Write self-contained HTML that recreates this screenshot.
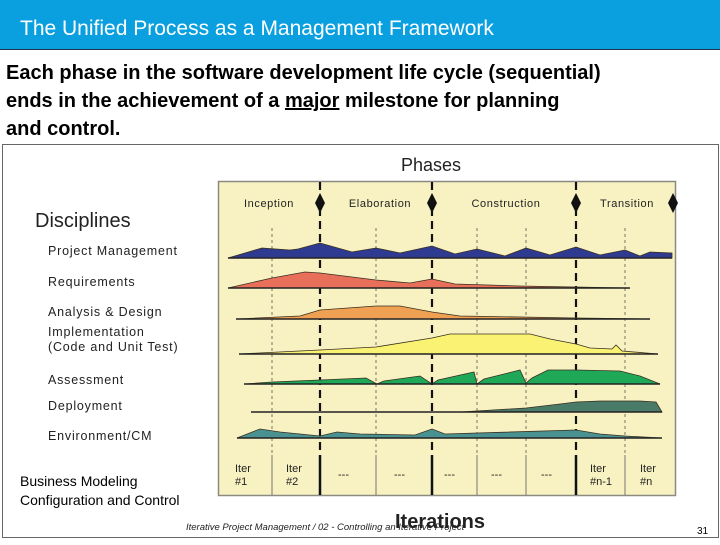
<!DOCTYPE html>
<html><head><meta charset="utf-8"><style>
html,body{margin:0;padding:0;background:#fff;}
body{width:720px;height:540px;overflow:hidden;font-family:"Liberation Sans",sans-serif;}
</style></head><body>
<svg id="s" width="720" height="540" viewBox="0 0 720 540" xmlns="http://www.w3.org/2000/svg">
<rect x="0" y="0" width="720" height="49" fill="#0aa0e0"/>
<line x1="0" y1="49.5" x2="720" y2="49.5" stroke="#1a3350" stroke-width="1"/>
<text x="20" y="35" font-size="21" fill="#fff">The Unified Process as a Management Framework</text>
<g font-size="20" font-weight="bold" fill="#000">
<text x="6" y="79">Each phase in the software development life cycle (sequential)</text>
<text x="6" y="107">ends in the achievement of a <tspan text-decoration="underline">major</tspan> milestone for planning</text>
<text x="6" y="135">and control.</text>
</g>
<rect x="2.5" y="144.5" width="716" height="393" fill="#fff" stroke="#666" stroke-width="1"/>
<text x="431" y="171" font-size="18" text-anchor="middle" fill="#222">Phases</text>
<rect x="218.5" y="181.5" width="457" height="314" fill="#f8f2c2" stroke="#8a8a80" stroke-width="1.5"/>
<g id="grid"></g>
<g id="humps"></g>
<g id="labels" font-size="11" fill="#222"></g>
<g font-size="12.5" fill="#222" letter-spacing="0.8">
<text x="35" y="227" font-size="20" letter-spacing="0">Disciplines</text>
<text x="48" y="255">Project Management</text>
<text x="48" y="286">Requirements</text>
<text x="48" y="316">Analysis &amp; Design</text>
<text x="48" y="336">Implementation</text>
<text x="48" y="351">(Code and Unit Test)</text>
<text x="48" y="384">Assessment</text>
<text x="48" y="410">Deployment</text>
<text x="48" y="440">Environment/CM</text>
</g>
<text x="20" y="486" font-size="14" fill="#000">Business Modeling</text>
<text x="20" y="505" font-size="14" fill="#000">Configuration and Control</text>
<text x="186" y="530" font-size="9.5" font-style="italic" fill="#222">Iterative Project Management / 02 - Controlling an Iterative Project</text>
<text x="440" y="528" font-size="20" font-weight="bold" text-anchor="middle" fill="#222">Iterations</text>
<text x="697" y="534" font-size="10" fill="#000">31</text>
</svg>
<script>
// x domain: 0..457 -> 218..675
const phaseBounds=[102,214,358];
const iterBounds=[54,158,259,308,407];
const phaseNames=["Inception","Elaboration","Construction","Transition"];
const phaseCenters=[51,162,288,409];
const iterLabels1=["Iter","Iter","---","---","---","---","---","Iter","Iter"];
const iterLabels2=["#1","#2","","","","","","#n-1","#n"];
const iterCenters=[27,78,130,186,236,283,333,382,432];
const pmX=[10,44,72,80,102,134,158,182,214,237,259,287,308,332,358,382,407,422,432,454];
const pmH=[0,10,8,9,15,6,10,5,12,4,9,2,10,3,11,3,8,2,6,5];
const reqX=[10,54,87,102,158,192,214,237,302,412];
const reqH=[0,10,16,15,8,5,9,4,2,0];
const adX=[18,82,102,158,182,214,242,358,432];
const adH=[0,3,9,13,13,7,3,1,0];
const impX=[21,102,158,214,232,312,332,358,372,394,398,404,440];
const impH=[0,4,7,16,20,20,15,10,6,5,9,3,0];
const asX=[26,54,102,148,159,166,202,214,220,256,259,266,302,308,314,330,358,402,422,442];
const asH=[0,2,4,6,0,3,8,0,4,12,0,5,14,1,6,14,14,13,8,0];
const depX=[33,242,308,342,358,382,422,438,444];
const depH=[0,0,4,8,10,11,11,10,0];
const envX=[19,42,62,82,102,119,142,197,214,227,358,382,407,444];
const envH=[0,9,6,4,2,6,4,3,9,4,8,4,2,0];

const NS="http://www.w3.org/2000/svg";
const sx=v=>218+v;
function mk(t,a,p){const e=document.createElementNS(NS,t);for(const k in a)e.setAttribute(k,a[k]);p.appendChild(e);return e;}
const grid=document.getElementById('grid');
iterBounds.forEach(b=>{
 const l=mk('line',{x1:sx(b),x2:sx(b),y1:228,y2:455,stroke:'#555','stroke-width':0.8,'stroke-dasharray':'3,3'},grid);
 
 
 const m=mk('line',{x1:sx(b),x2:sx(b),y1:455,y2:495,stroke:'#777','stroke-width':1},grid);
 
 
});
phaseBounds.forEach(b=>{
 const l=mk('line',{x1:sx(b),x2:sx(b),y1:182,y2:455,stroke:'#111','stroke-width':2.2,'stroke-dasharray':'8,5'},grid);
 
 
 const m=mk('line',{x1:sx(b),x2:sx(b),y1:455,y2:495,stroke:'#111','stroke-width':2.5},grid);
 
 
});
phaseBounds.concat([455]).forEach(b=>{
 const d=mk('polygon',{points:`${sx(b)},193 ${sx(b)+5},203 ${sx(b)},213 ${sx(b)-5},203`,fill:'#111'},grid);
 
 
});
const lab=document.getElementById('labels');
phaseNames.forEach((n,i)=>{
 const t=mk('text',{x:sx(phaseCenters[i]),y:207,'text-anchor':'middle','letter-spacing':'0.6'},lab);
 t.textContent=n;
 
 
});
iterCenters.forEach((c,i)=>{
 const t=mk('text',{x:sx(c)-10,y:iterLabels2[i]?472:478},lab);
 t.textContent=iterLabels1[i];
 
 
 if(iterLabels2[i]){const u=mk('text',{x:sx(c)-10,y:485},lab);u.textContent=iterLabels2[i];
 
 }
});
const humps=document.getElementById('humps');
const series=[
 [pmX,pmH,258,'#2f3b90','discipline-project-management'],
 [reqX,reqH,288,'#e8705a','discipline-requirements'],
 [adX,adH,319,'#f0a052','discipline-analysis-design'],
 [impX,impH,354,'#faf272','discipline-implementation'],
 [asX,asH,384,'#1fa858','discipline-assessment'],
 [depX,depH,412,'#4a7a68','discipline-deployment'],
 [envX,envH,438,'#4a9292','discipline-environment']
];
const hs=1.0;
series.forEach(([X,H,base,col,name])=>{
 let pts=X.map((x,i)=>`${sx(x)},${base-H[i]*hs}`);
 pts.push(`${sx(X[X.length-1])},${base}`);
 pts.push(`${sx(X[0])},${base}`);
 const p=mk('polygon',{points:pts.join(' '),fill:col,stroke:'#3a3020','stroke-width':0.8},humps);
 
 
 const b=mk('line',{x1:sx(X[0]),x2:sx(X[X.length-1]),y1:base,y2:base,stroke:'#222','stroke-width':1.5},humps);
 
 
});
</script>
</body></html>
